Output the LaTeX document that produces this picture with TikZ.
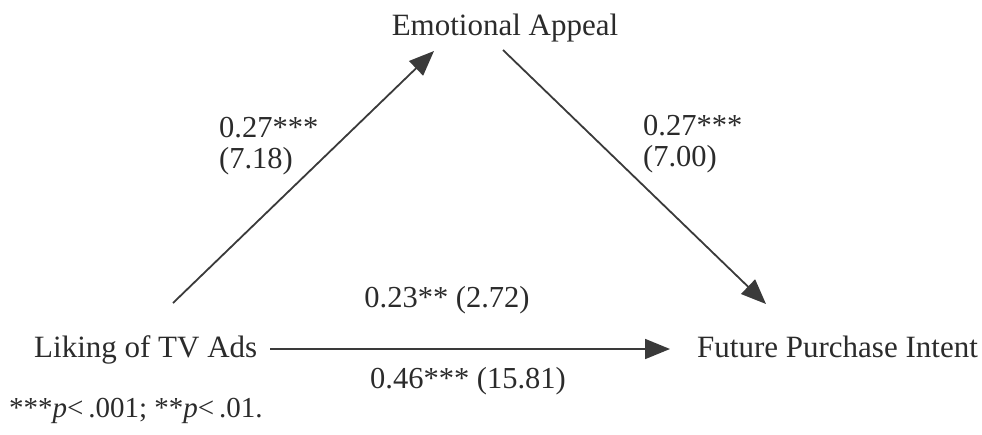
\documentclass[tikz,border=0pt]{standalone}
\usepackage{fontspec}
\setmainfont{Liberation Serif}
\usetikzlibrary{arrows.meta}
\definecolor{ink}{HTML}{2B2B2B}
\definecolor{lineink}{HTML}{3A3A3A}
\tikzset{
  lbl/.style={inner sep=0pt, text=ink, font=\fontsize{30.5}{31}\selectfont},
  var/.style={inner sep=0pt, text=ink, font=\fontsize{31}{33}\selectfont},
  conn/.style={draw=lineink, line width=1.8pt, -{Triangle[length=25pt,width=20pt]}}
}
\begin{document}
\begin{tikzpicture}[x=1pt,y=-1pt]
\useasboundingbox (0,0) rectangle (982,434);
\node[var, anchor=base] (emo) at (505,35) {Emotional Appeal};
\node[var, anchor=base west] (lik) at (34,357) {Liking of TV Ads};
\node[var, anchor=base west] (fut) at (697,357) {Future Purchase Intent};
\coordinate (likstart) at (173,303);
\coordinate (emoin) at (434,51);
\coordinate (emoout) at (503,50);
\coordinate (futin) at (766,304);
\coordinate (hstart) at (270,349);
\coordinate (hend) at (670,349);
\draw[conn] (likstart) -- (emoin);
\draw[conn] (emoout) -- (futin);
\draw[conn] (hstart) -- (hend);
\node[lbl, anchor=north west, align=left] (l1) at (219,117) {0.27***\\(7.18)};
\node[lbl, anchor=north west, align=left] (l2) at (643,115) {0.27***\\(7.00)};
\node[lbl] (l3) at (447,300) {0.23** (2.72)};
\node[lbl] (l4) at (468,381) {0.46*** (15.81)};
\node[lbl, anchor=west, font=\fontsize{29}{31}\selectfont] (note) at (9,411) {***\textit{p}<\,.001; **\textit{p}<\,.01.};
\end{tikzpicture}
\end{document}
